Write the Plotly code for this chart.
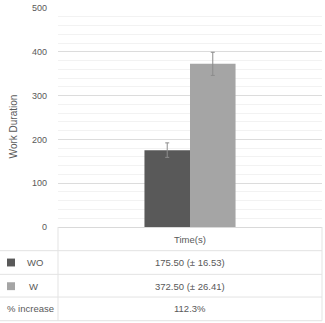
import plotly.graph_objects as go

categories = ["Time(s)"]
series_names = ["WO", "W"]
means = [175.50, 372.50]
sds = [16.53, 26.41]
colors = ["#595959", "#a5a5a5"]
y_ticks = [0, 100, 200, 300, 400, 500]

W, H = 325, 323
L, R, T, B = 58, 3, 5, 96
pw = W - L - R
ph = H - T - B

def px_x(p):
    return (p - L) / pw

def px_y(p):
    return (H - B - p) / ph

fig = go.Figure()
for name, m, s, c in zip(series_names, means, sds, colors):
    fig.add_trace(go.Bar(
        x=categories, y=[m], name=name, marker=dict(color=c, line=dict(width=0)),
        error_y=dict(type="data", array=[s], color="#8c8c8c", thickness=1, width=2),
        showlegend=False))

txt = "#595959"
fnt = dict(family="Liberation Sans, Arial", size=9.5, color=txt)
tfnt = dict(family="Liberation Sans, Arial", size=9, color=txt)

fig.update_layout(
    width=W, height=H, margin=dict(l=L, r=R, t=T, b=B),
    paper_bgcolor="white", plot_bgcolor="white",
    barmode="group", bargap=0.655, bargroupgap=0,
    font=fnt,
    xaxis=dict(showticklabels=False, showline=True, linecolor="#d9d9d9", linewidth=1,
               ticks="", showgrid=False),
    yaxis=dict(range=[0, 500], tickvals=y_ticks, showgrid=True, gridcolor="#dcdcdc",
               gridwidth=1, zeroline=False, showline=False, ticks="",
               ticklabelstandoff=10, tickfont=tfnt, ticklabeloverflow="allow",
               minor=dict(dtick=20, showgrid=True, gridcolor="#f2f2f2", gridwidth=1)),
)

def ann(text, xp, yp, font=fnt, **kw):
    fig.add_annotation(text=text, x=px_x(xp), y=px_y(yp), xref="paper", yref="paper",
                       xanchor="center", yanchor="middle", showarrow=False, font=font, **kw)

# y axis title
ann("Work Duration", 13, 125, font=dict(family="Liberation Sans, Arial", size=10, color=txt),
    textangle=-90)

# data table lines
line_c = "#e3e3e3"
row_lines = [251, 275, 298, 322]
for yy in row_lines:
    fig.add_shape(type="line", xref="paper", yref="paper", x0=px_x(0), x1=px_x(322),
                  y0=px_y(yy), y1=px_y(yy), line=dict(color=line_c, width=1))
fig.add_shape(type="line", xref="paper", yref="paper", x0=px_x(58), x1=px_x(58),
              y0=px_y(227), y1=px_y(322), line=dict(color=line_c, width=1))
fig.add_shape(type="line", xref="paper", yref="paper", x0=px_x(322), x1=px_x(322),
              y0=px_y(227), y1=px_y(322), line=dict(color=line_c, width=1))

cx = 190
ann(categories[0], cx, 240)
row_centers = [263, 287]
for name, m, s, c, yc in zip(series_names, means, sds, colors, row_centers):
    fig.add_shape(type="rect", xref="paper", yref="paper", x0=px_x(7), x1=px_x(15),
                  y0=px_y(yc - 4), y1=px_y(yc + 4), fillcolor=c, line=dict(width=0))
    ann(name, 35 if name == "WO" else 33, yc)
    ann(f"{m:.2f} (\u00b1 {s:.2f})", cx, yc)

pct = (means[1] - means[0]) / means[0] * 100
ann("% increase", 30, 310)
ann(f"{pct:.1f}%", cx, 310)

fig.write_html("out.html")
